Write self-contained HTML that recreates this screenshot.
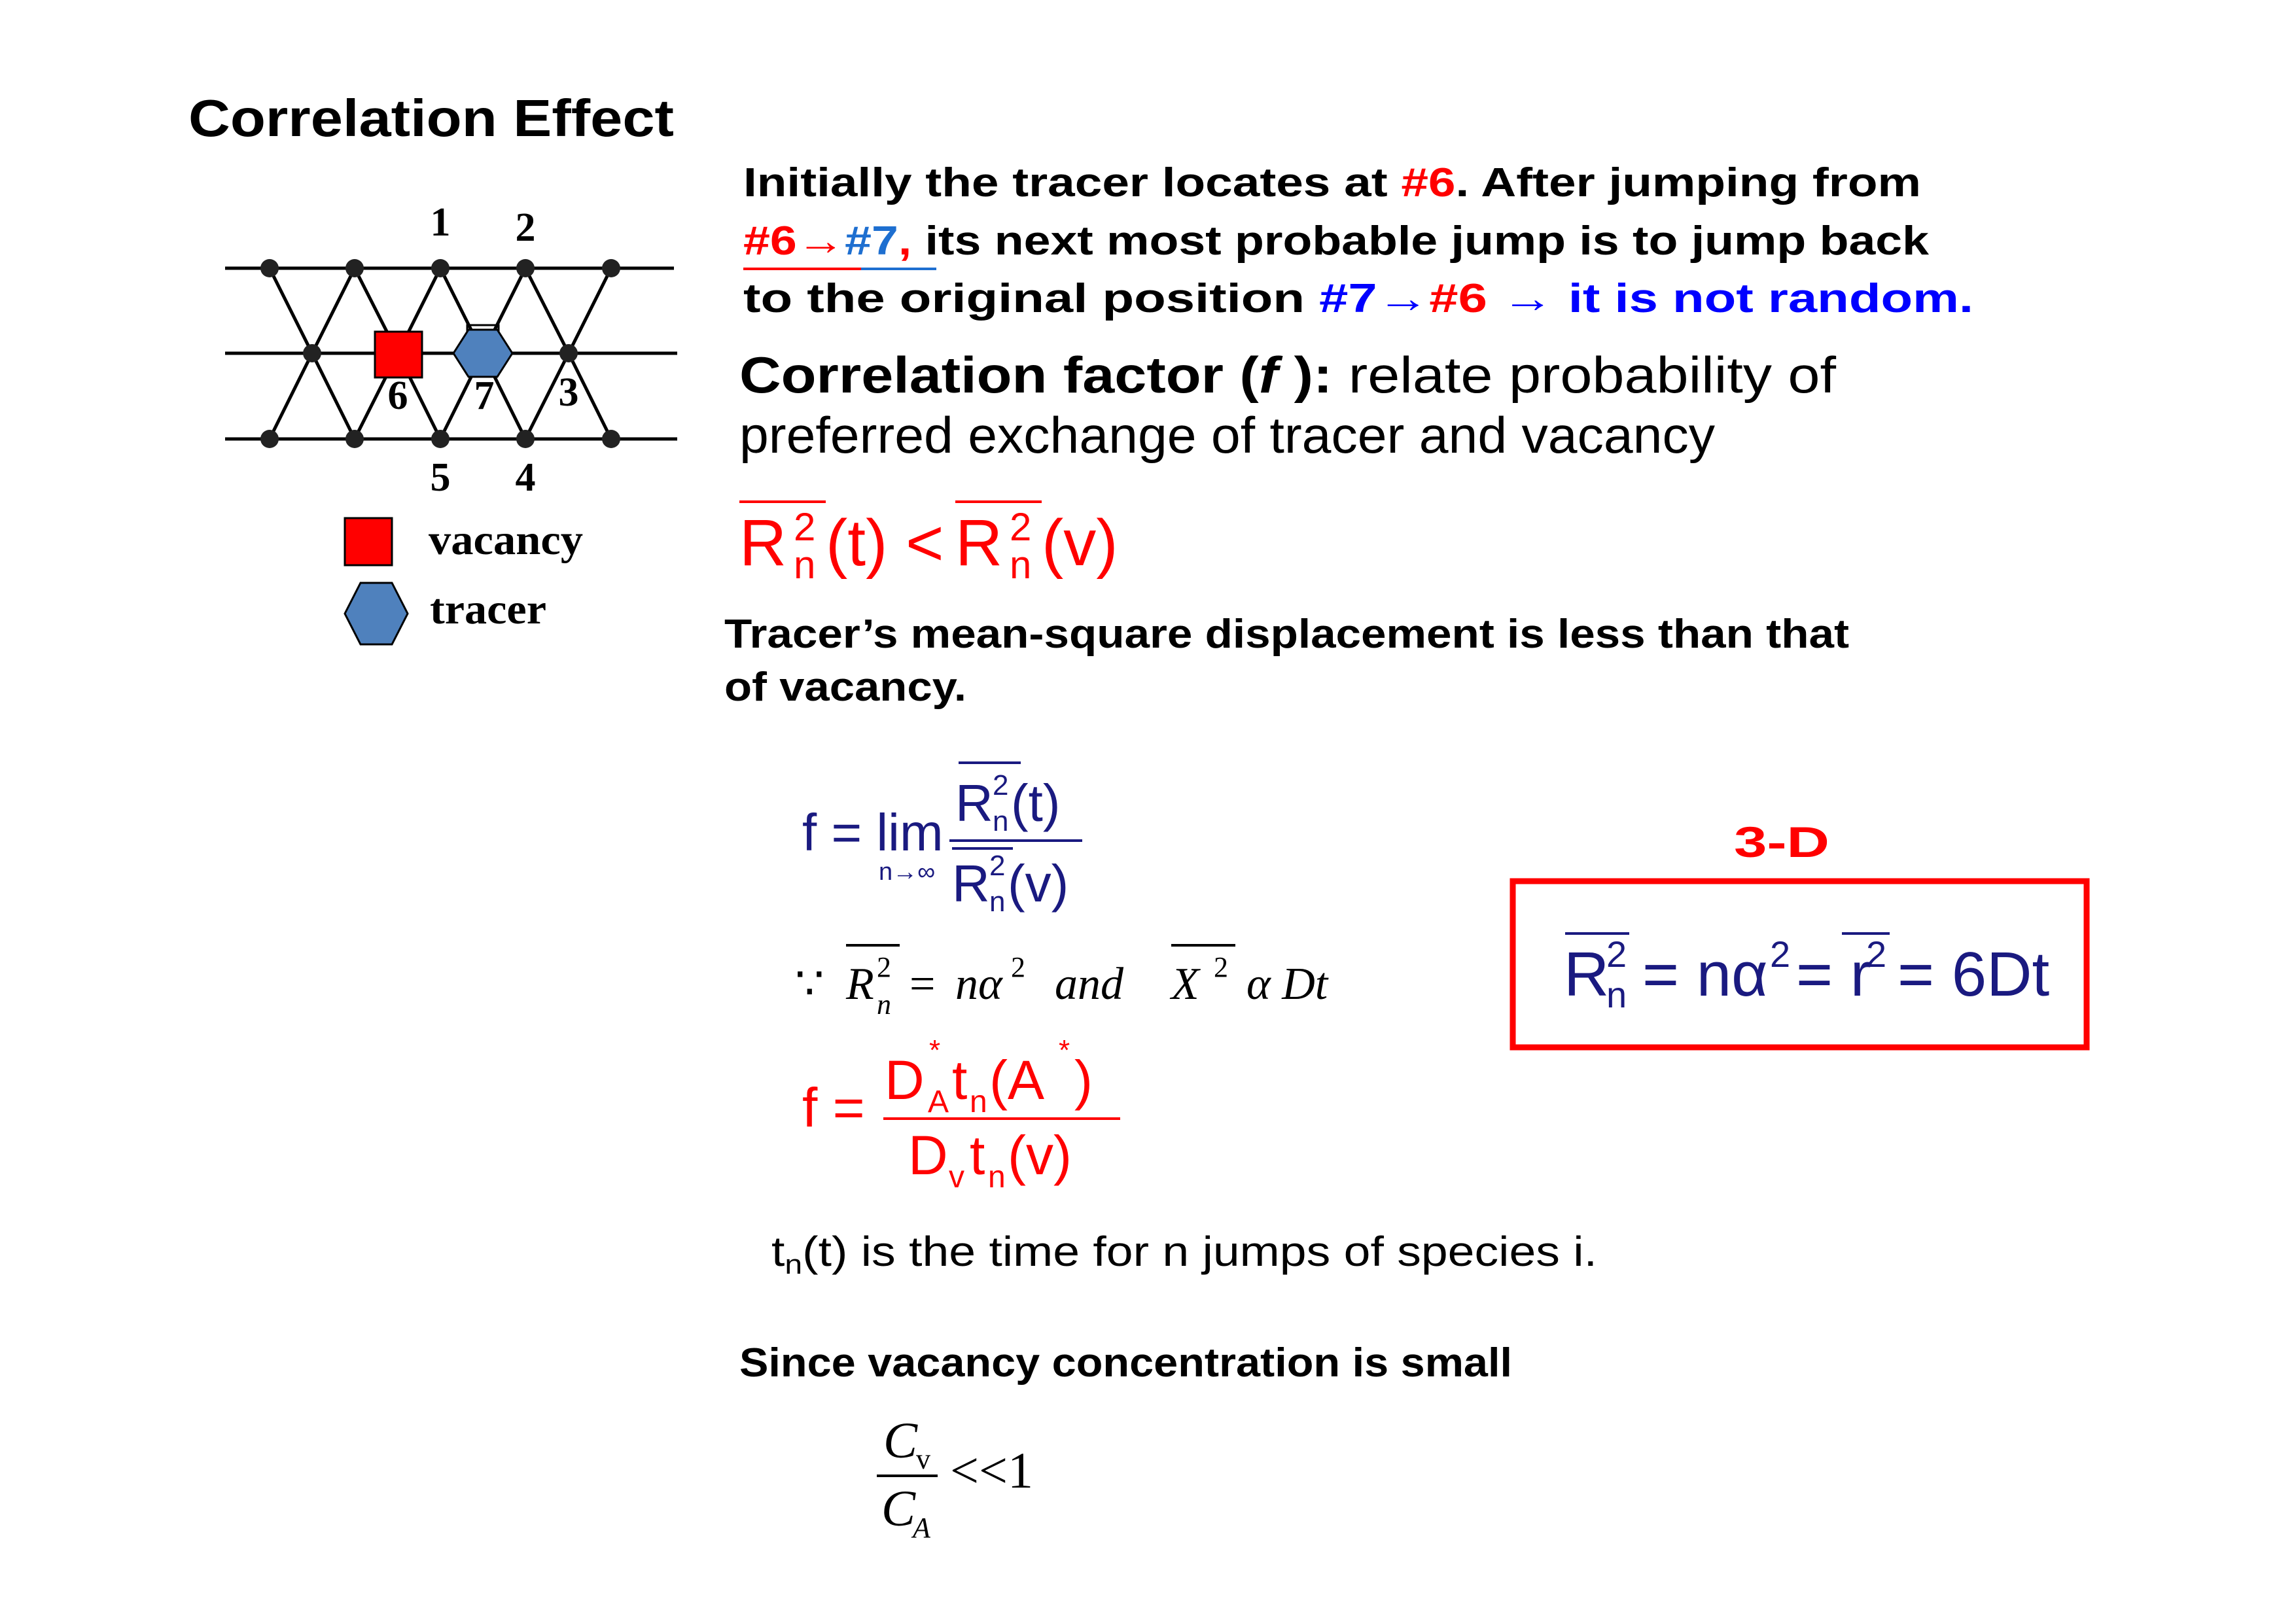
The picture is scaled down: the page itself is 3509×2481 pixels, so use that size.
<!DOCTYPE html>
<html><head><meta charset="utf-8"><style>
html,body{margin:0;padding:0;background:#fff;}
svg{display:block}
.c{font-family:"Liberation Sans",sans-serif;font-weight:bold}
.s{font-family:"Liberation Serif",serif;font-weight:bold}
.a{font-family:"Liberation Sans",sans-serif}
.i{font-family:"Liberation Serif",serif;font-style:italic}
</style></head><body>
<svg width="3509" height="2481" viewBox="0 0 3509 2481" xmlns="http://www.w3.org/2000/svg">
<rect width="3509" height="2481" fill="#fff"/>
<text class="c" x="288" y="208" font-size="80" textLength="742" lengthAdjust="spacingAndGlyphs">Correlation Effect</text>

<!-- lattice -->
<g stroke="#000" stroke-width="5" fill="none">
<line x1="344" y1="410" x2="1030" y2="410"/>
<line x1="344" y1="540" x2="1035" y2="540"/>
<line x1="344" y1="671" x2="1035" y2="671"/>
<polyline points="412,410 477,540 542,410 608,540 673,410 738,540 803,410 869,540 934,410"/>
<polyline points="412,671 477,540 542,671 608,540 673,671 738,540 803,671 869,540 934,671"/>
</g>
<g fill="#222">
<circle cx="412" cy="410" r="14"/><circle cx="542" cy="410" r="14"/><circle cx="673" cy="410" r="14"/><circle cx="803" cy="410" r="14"/><circle cx="934" cy="410" r="14"/>
<circle cx="412" cy="671" r="14"/><circle cx="542" cy="671" r="14"/><circle cx="673" cy="671" r="14"/><circle cx="803" cy="671" r="14"/><circle cx="934" cy="671" r="14"/>
<circle cx="477" cy="540" r="14"/><circle cx="869" cy="540" r="14"/>
</g>
<rect x="573" y="507" width="72" height="70" fill="#f00" stroke="#000" stroke-width="3"/>
<rect x="714" y="497" width="48" height="12" fill="none" stroke="#000" stroke-width="3"/>
<polygon points="693,540 716,504 760,504 783,540 760,576 716,576" fill="#4f81bd" stroke="#000" stroke-width="3"/>
<g class="s" font-size="62" text-anchor="middle">
<text x="673" y="360">1</text><text x="803" y="368">2</text>
<text x="608" y="625">6</text><text x="740" y="625">7</text><text x="869" y="620">3</text>
<text x="673" y="750">5</text><text x="803" y="750">4</text>
</g>
<rect x="527" y="792" width="72" height="72" fill="#f00" stroke="#000" stroke-width="3"/>
<polygon points="527,938 551,891 599,891 623,938 599,985 551,985" fill="#4f81bd" stroke="#000" stroke-width="3"/>
<text class="s" x="655" y="847" font-size="66" textLength="236" lengthAdjust="spacingAndGlyphs">vacancy</text>
<text class="s" x="657" y="953" font-size="66" textLength="178" lengthAdjust="spacingAndGlyphs">tracer</text>

<!-- right text -->
<text class="c" x="1136" y="300" font-size="62" textLength="1800" lengthAdjust="spacingAndGlyphs">Initially the tracer locates at <tspan fill="#f00">#6</tspan>. After jumping from</text>
<text class="c" x="1136" y="389" font-size="62" textLength="1812" lengthAdjust="spacingAndGlyphs"><tspan fill="#f00">#6→</tspan><tspan fill="#1e6fd0">#7</tspan><tspan fill="#f00">,</tspan> its next most probable jump is to jump back</text>
<line x1="1136" y1="411" x2="1316" y2="411" stroke="#f00" stroke-width="4"/>
<line x1="1316" y1="411" x2="1431" y2="411" stroke="#1e6fd0" stroke-width="4"/>
<text class="c" x="1136" y="477" font-size="62" textLength="1880" lengthAdjust="spacingAndGlyphs">to the original position <tspan fill="#00f">#7→</tspan><tspan fill="#f00">#6</tspan>  <tspan fill="#00f">→  it is not random.</tspan></text>
<text x="1130" y="600" font-size="78" textLength="1676" lengthAdjust="spacingAndGlyphs"><tspan class="c">Correlation factor (</tspan><tspan class="c" font-style="italic">f</tspan><tspan class="c"> ):</tspan><tspan class="a"> relate probability of</tspan></text>
<text class="a" x="1130" y="692" font-size="78" textLength="1491" lengthAdjust="spacingAndGlyphs">preferred exchange of tracer and vacancy</text>

<!-- R^2 inequality -->
<g fill="#f00" class="a" font-size="100">
<text x="1130" y="864">R</text>
<text x="1213" y="826" font-size="60">2</text>
<text x="1213" y="884" font-size="60">n</text>
<text x="1262" y="864">(t) &lt;</text>
<text x="1460" y="864">R</text>
<text x="1543" y="826" font-size="60">2</text>
<text x="1543" y="884" font-size="60">n</text>
<text x="1592" y="864">(v)</text>
</g>
<line x1="1130" y1="767" x2="1262" y2="767" stroke="#f00" stroke-width="4"/>
<line x1="1460" y1="767" x2="1592" y2="767" stroke="#f00" stroke-width="4"/>

<text class="c" x="1107" y="990" font-size="62" textLength="1719" lengthAdjust="spacingAndGlyphs">Tracer’s mean-square displacement is less than that</text>
<text class="c" x="1107" y="1071" font-size="62" textLength="370" lengthAdjust="spacingAndGlyphs">of vacancy.</text>

<!-- f = lim -->
<g fill="#1a1a80" class="a">
<text x="1226" y="1300" font-size="80">f = lim</text>
<text x="1343" y="1345" font-size="38">n→∞</text>
<text x="1460" y="1255" font-size="80">R</text>
<text x="1517" y="1215" font-size="44">2</text>
<text x="1517" y="1270" font-size="44">n</text>
<text x="1545" y="1255" font-size="80">(t)</text>
<text x="1455" y="1378" font-size="80">R</text>
<text x="1512" y="1338" font-size="44">2</text>
<text x="1512" y="1393" font-size="44">n</text>
<text x="1540" y="1378" font-size="80">(v)</text>
</g>
<line x1="1465" y1="1166" x2="1560" y2="1166" stroke="#1a1a80" stroke-width="4"/>
<line x1="1451" y1="1285" x2="1654" y2="1285" stroke="#1a1a80" stroke-width="4"/>
<line x1="1455" y1="1297" x2="1548" y2="1297" stroke="#1a1a80" stroke-width="4"/>

<!-- because line -->
<g class="i" font-size="70" fill="#000">
<text x="1215" y="1527" font-style="normal">∵</text>
<text x="1293" y="1527">R</text>
<text x="1340" y="1493" font-size="44" font-style="normal">2</text>
<text x="1340" y="1550" font-size="44">n</text>
<text x="1390" y="1527" font-style="normal">=</text>
<text x="1460" y="1527">nα</text>
<text x="1545" y="1493" font-size="44" font-style="normal">2</text>
<text x="1612" y="1527">and</text>
<text x="1790" y="1527">X</text>
<text x="1855" y="1493" font-size="44" font-style="normal">2</text>
<text x="1905" y="1527">α Dt</text>
</g>
<line x1="1293" y1="1445" x2="1375" y2="1445" stroke="#000" stroke-width="4"/>
<line x1="1790" y1="1445" x2="1888" y2="1445" stroke="#000" stroke-width="4"/>

<!-- red f -->
<g fill="#f00" class="a">
<text x="1226" y="1722" font-size="84">f =</text>
<text x="1352" y="1680" font-size="84">D</text>
<text x="1420" y="1620" font-size="44">*</text>
<text x="1418" y="1700" font-size="48">A</text>
<text x="1455" y="1680" font-size="84">t</text>
<text x="1482" y="1700" font-size="48">n</text>
<text x="1512" y="1680" font-size="84">(A</text>
<text x="1618" y="1620" font-size="44">*</text>
<text x="1642" y="1680" font-size="84">)</text>
<text x="1388" y="1795" font-size="84">D</text>
<text x="1450" y="1815" font-size="48">v</text>
<text x="1482" y="1795" font-size="84">t</text>
<text x="1510" y="1815" font-size="48">n</text>
<text x="1540" y="1795" font-size="84">(v)</text>
</g>
<line x1="1350" y1="1710" x2="1712" y2="1710" stroke="#f00" stroke-width="4"/>

<!-- 3-D box -->
<text class="c" x="2650" y="1310" font-size="66" fill="#f00" textLength="146" lengthAdjust="spacingAndGlyphs">3-D</text>
<rect x="2312" y="1347" width="877" height="254" fill="none" stroke="#f00" stroke-width="9"/>
<g fill="#1a1a80" class="a" font-size="96">
<text x="2390" y="1522">R</text>
<text x="2455" y="1478" font-size="56">2</text>
<text x="2455" y="1540" font-size="56">n</text>
<text x="2510" y="1522">= nα</text>
<text x="2705" y="1478" font-size="56">2</text>
<text x="2745" y="1522">= r</text>
<text x="2852" y="1478" font-size="56">2</text>
<text x="2900" y="1522">= 6Dt</text>
</g>
<line x1="2392" y1="1427" x2="2490" y2="1427" stroke="#1a1a80" stroke-width="4"/>
<line x1="2815" y1="1427" x2="2888" y2="1427" stroke="#1a1a80" stroke-width="4"/>

<text class="a" x="1179" y="1935" font-size="64" textLength="1262" lengthAdjust="spacingAndGlyphs">t<tspan font-size="42" dy="12">n</tspan><tspan dy="-12">(t) is the time for n jumps of species i.</tspan></text>
<text class="c" x="1130" y="2104" font-size="62" textLength="1181" lengthAdjust="spacingAndGlyphs">Since vacancy concentration is small</text>

<g class="i" font-size="78" fill="#000">
<text x="1350" y="2228">C</text>
<text x="1400" y="2245" font-size="44" font-style="normal">v</text>
<text x="1347" y="2332">C</text>
<text x="1395" y="2350" font-size="44">A</text>
<text x="1452" y="2274" font-style="normal">&lt;&lt;1</text>
</g>
<line x1="1340" y1="2256" x2="1433" y2="2256" stroke="#000" stroke-width="4"/>
</svg>
</body></html>
